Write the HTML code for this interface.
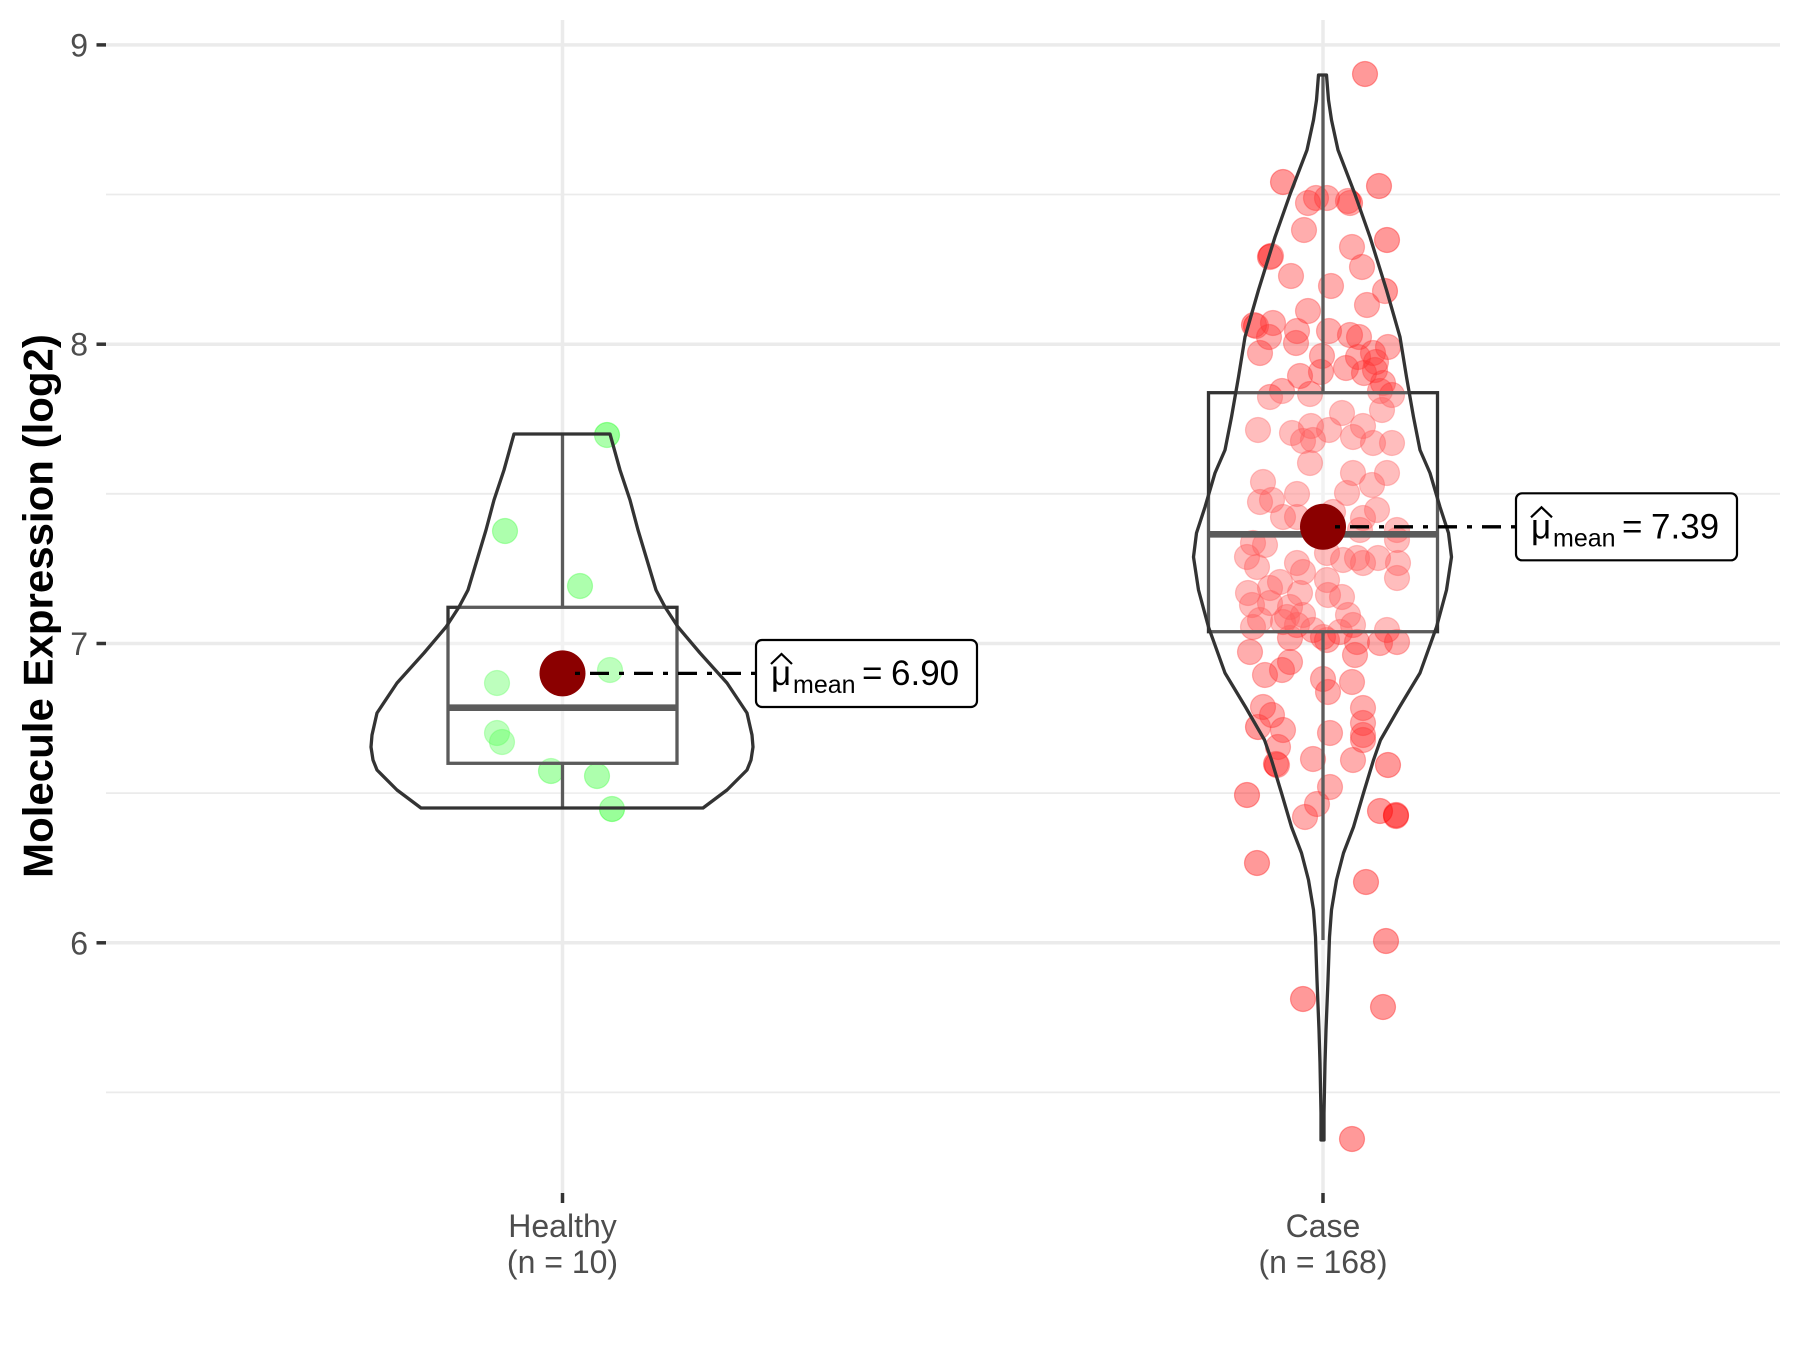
<!DOCTYPE html>
<html>
<head>
<meta charset="utf-8">
<style>
html,body{margin:0;padding:0;background:#fff;}
svg{display:block;}
text{font-family:"Liberation Sans",Arial,sans-serif;}
</style>
</head>
<body>
<svg width="1800" height="1350" viewBox="0 0 1800 1350" xmlns="http://www.w3.org/2000/svg">
<rect x="0" y="0" width="1800" height="1350" fill="#ffffff"/>

<!-- grid -->
<g stroke="#EBEBEB" fill="none">
  <g stroke-width="1.8">
    <line x1="106" y1="194.5" x2="1780" y2="194.5"/>
    <line x1="106" y1="493.8" x2="1780" y2="493.8"/>
    <line x1="106" y1="793.1" x2="1780" y2="793.1"/>
    <line x1="106" y1="1092.4" x2="1780" y2="1092.4"/>
  </g>
  <g stroke-width="3.5">
    <line x1="106" y1="44.9" x2="1780" y2="44.9"/>
    <line x1="106" y1="344.2" x2="1780" y2="344.2"/>
    <line x1="106" y1="643.5" x2="1780" y2="643.5"/>
    <line x1="106" y1="942.8" x2="1780" y2="942.8"/>
    <line x1="562.5" y1="20" x2="562.5" y2="1193"/>
    <line x1="1323" y1="20" x2="1323" y2="1193"/>
  </g>
</g>

<!-- axis ticks -->
<g stroke="#333333" stroke-width="3.5">
  <line x1="96.5" y1="44.9" x2="106" y2="44.9"/>
  <line x1="96.5" y1="344.2" x2="106" y2="344.2"/>
  <line x1="96.5" y1="643.5" x2="106" y2="643.5"/>
  <line x1="96.5" y1="942.8" x2="106" y2="942.8"/>
  <line x1="562.5" y1="1193" x2="562.5" y2="1203"/>
  <line x1="1323" y1="1193" x2="1323" y2="1203"/>
</g>
<g font-size="32" fill="#4D4D4D" text-anchor="end">
  <text x="88" y="56.4">9</text>
  <text x="88" y="355.7">8</text>
  <text x="88" y="655">7</text>
  <text x="88" y="954.3">6</text>
</g>
<g font-size="32" fill="#4D4D4D" text-anchor="middle">
  <text x="562.5" y="1237">Healthy</text>
  <text x="562.5" y="1273">(n = 10)</text>
  <text x="1323" y="1237">Case</text>
  <text x="1323" y="1273">(n = 168)</text>
</g>
<text transform="translate(52.7,606) rotate(-90)" text-anchor="middle" font-size="42" font-weight="bold" fill="#000">Molecule Expression (log2)</text>

<!-- green points -->
<g fill="#00FF00" fill-opacity="0.4" stroke="#00FF00" stroke-opacity="0.35" stroke-width="1.2">
<circle cx="607" cy="435" r="12.5"/><circle cx="505" cy="531" r="12.5"/><circle cx="580" cy="586" r="12.5"/>
<circle cx="610" cy="670" r="12.5"/><circle cx="497" cy="683" r="12.5"/><circle cx="497" cy="733" r="12.5"/>
<circle cx="502" cy="742" r="12.5"/><circle cx="551" cy="771" r="12.5"/><circle cx="597" cy="776" r="12.5"/>
<circle cx="612" cy="809" r="12.5"/>
</g>

<!-- red points -->
<g fill="#FF0000" fill-opacity="0.4" stroke="#FF0000" stroke-opacity="0.35" stroke-width="1.2">
<circle cx="1365" cy="74" r="12.5"/>
<circle cx="1283" cy="182" r="12.5"/><circle cx="1379" cy="186" r="12.5"/><circle cx="1308" cy="203" r="12.5"/>
<circle cx="1316" cy="198" r="12.5"/><circle cx="1327" cy="198" r="12.5"/><circle cx="1348" cy="201" r="12.5"/>
<circle cx="1350" cy="203" r="12.5"/><circle cx="1304" cy="230" r="12.5"/><circle cx="1387" cy="240" r="12.5"/>
<circle cx="1352" cy="247" r="12.5"/><circle cx="1271" cy="256" r="12.5"/><circle cx="1270" cy="257" r="12.5"/>
<circle cx="1362" cy="267" r="12.5"/><circle cx="1291" cy="276" r="12.5"/><circle cx="1331" cy="286" r="12.5"/>
<circle cx="1385" cy="291" r="12.5"/><circle cx="1367" cy="305" r="12.5"/><circle cx="1308" cy="311" r="12.5"/>
<circle cx="1256" cy="326" r="12.5"/><circle cx="1254" cy="325" r="12.5"/><circle cx="1273" cy="323" r="12.5"/>
<circle cx="1297" cy="331" r="12.5"/><circle cx="1329" cy="331" r="12.5"/><circle cx="1350" cy="335" r="12.5"/>
<circle cx="1359" cy="337" r="12.5"/><circle cx="1269" cy="337" r="12.5"/><circle cx="1296" cy="343" r="12.5"/>
<circle cx="1260" cy="353" r="12.5"/><circle cx="1322" cy="356" r="12.5"/><circle cx="1388" cy="347" r="12.5"/>
<circle cx="1373" cy="353" r="12.5"/><circle cx="1358" cy="357" r="12.5"/><circle cx="1376" cy="362" r="12.5"/>
<circle cx="1346" cy="368" r="12.5"/><circle cx="1364" cy="373" r="12.5"/><circle cx="1375" cy="370" r="12.5"/>
<circle cx="1300" cy="376" r="12.5"/><circle cx="1321" cy="372" r="12.5"/><circle cx="1383" cy="383" r="12.5"/>
<circle cx="1282" cy="391" r="12.5"/><circle cx="1270" cy="397" r="12.5"/><circle cx="1310" cy="394" r="12.5"/>
<circle cx="1380" cy="391" r="12.5"/><circle cx="1392" cy="395" r="12.5"/><circle cx="1382" cy="410" r="12.5"/>
<circle cx="1342" cy="413" r="12.5"/><circle cx="1258" cy="430" r="12.5"/><circle cx="1292" cy="433" r="12.5"/>
<circle cx="1311" cy="426" r="12.5"/><circle cx="1329" cy="430" r="12.5"/><circle cx="1363" cy="426" r="12.5"/>
<circle cx="1303" cy="441" r="12.5"/><circle cx="1313" cy="440" r="12.5"/><circle cx="1353" cy="437" r="12.5"/>
<circle cx="1373" cy="443" r="12.5"/><circle cx="1392" cy="443" r="12.5"/>
<circle cx="1310" cy="463" r="12.5"/><circle cx="1353" cy="473" r="12.5"/><circle cx="1263" cy="482" r="12.5"/>
<circle cx="1372" cy="485" r="12.5"/><circle cx="1387" cy="473" r="12.5"/><circle cx="1347" cy="493" r="12.5"/>
<circle cx="1297" cy="494" r="12.5"/><circle cx="1260" cy="502" r="12.5"/><circle cx="1272" cy="500" r="12.5"/>
<circle cx="1377" cy="510" r="12.5"/><circle cx="1283" cy="517" r="12.5"/><circle cx="1297" cy="517" r="12.5"/>
<circle cx="1363" cy="518" r="12.5"/><circle cx="1333" cy="512" r="12.5"/><circle cx="1397" cy="530" r="12.5"/>
<circle cx="1360" cy="530" r="12.5"/><circle cx="1397" cy="540" r="12.5"/><circle cx="1253" cy="543" r="12.5"/>
<circle cx="1265" cy="545" r="12.5"/><circle cx="1247" cy="557" r="12.5"/><circle cx="1257" cy="567" r="12.5"/>
<circle cx="1297" cy="563" r="12.5"/><circle cx="1327" cy="553" r="12.5"/><circle cx="1343" cy="560" r="12.5"/>
<circle cx="1357" cy="558" r="12.5"/><circle cx="1363" cy="563" r="12.5"/><circle cx="1378" cy="558" r="12.5"/>
<circle cx="1398" cy="563" r="12.5"/><circle cx="1303" cy="572" r="12.5"/><circle cx="1397" cy="578" r="12.5"/>
<circle cx="1280" cy="582" r="12.5"/><circle cx="1270" cy="588" r="12.5"/><circle cx="1327" cy="580" r="12.5"/>
<circle cx="1248" cy="593" r="12.5"/><circle cx="1300" cy="593" r="12.5"/><circle cx="1328" cy="595" r="12.5"/>
<circle cx="1342" cy="597" r="12.5"/><circle cx="1252" cy="605" r="12.5"/><circle cx="1270" cy="603" r="12.5"/>
<circle cx="1290" cy="607" r="12.5"/><circle cx="1287" cy="617" r="12.5"/><circle cx="1303" cy="615" r="12.5"/>
<circle cx="1348" cy="615" r="12.5"/><circle cx="1260" cy="620" r="12.5"/><circle cx="1283" cy="622" r="12.5"/>
<circle cx="1253" cy="627" r="12.5"/><circle cx="1297" cy="625" r="12.5"/><circle cx="1353" cy="625" r="12.5"/>
<circle cx="1313" cy="630" r="12.5"/><circle cx="1323" cy="637" r="12.5"/><circle cx="1340" cy="632" r="12.5"/>
<circle cx="1387" cy="630" r="12.5"/><circle cx="1290" cy="638" r="12.5"/><circle cx="1327" cy="640" r="12.5"/>
<circle cx="1357" cy="642" r="12.5"/><circle cx="1397" cy="642" r="12.5"/><circle cx="1380" cy="643" r="12.5"/>
<circle cx="1250" cy="652" r="12.5"/><circle cx="1290" cy="662" r="12.5"/><circle cx="1355" cy="655" r="12.5"/>
<circle cx="1265" cy="675" r="12.5"/><circle cx="1282" cy="670" r="12.5"/><circle cx="1323" cy="679" r="12.5"/>
<circle cx="1328" cy="692" r="12.5"/><circle cx="1352" cy="682" r="12.5"/><circle cx="1263" cy="707" r="12.5"/>
<circle cx="1272" cy="715" r="12.5"/><circle cx="1363" cy="708" r="12.5"/><circle cx="1363" cy="723" r="12.5"/>
<circle cx="1258" cy="727" r="12.5"/><circle cx="1283" cy="730" r="12.5"/><circle cx="1330" cy="733" r="12.5"/>
<circle cx="1363" cy="735" r="12.5"/>
<circle cx="1363" cy="740" r="12.5"/><circle cx="1278" cy="747" r="12.5"/><circle cx="1313" cy="759" r="12.5"/>
<circle cx="1353" cy="760" r="12.5"/><circle cx="1277" cy="765" r="12.5"/><circle cx="1276" cy="764" r="12.5"/>
<circle cx="1388" cy="765" r="12.5"/><circle cx="1330" cy="787" r="12.5"/><circle cx="1247" cy="795" r="12.5"/>
<circle cx="1317" cy="804" r="12.5"/><circle cx="1305" cy="817" r="12.5"/><circle cx="1380" cy="811" r="12.5"/>
<circle cx="1396" cy="815" r="12.5"/><circle cx="1396" cy="816" r="12.5"/><circle cx="1257" cy="863" r="12.5"/>
<circle cx="1366" cy="882" r="12.5"/><circle cx="1386" cy="941" r="12.5"/><circle cx="1303" cy="999" r="12.5"/>
<circle cx="1383" cy="1007" r="12.5"/><circle cx="1352" cy="1139" r="12.5"/>
</g>

<!-- boxplots -->
<g stroke="#333333" stroke-width="3.3" fill="#ffffff" fill-opacity="0.2" stroke-linejoin="miter">
  <line x1="562.5" y1="434.3" x2="562.5" y2="607.3"/>
  <line x1="562.5" y1="763.3" x2="562.5" y2="808.3"/>
  <rect x="448" y="607.3" width="229" height="156"/>
  <line x1="448" y1="707.7" x2="677" y2="707.7" stroke-width="6.6"/>

  <line x1="1323" y1="75" x2="1323" y2="392.7"/>
  <line x1="1323" y1="631.7" x2="1323" y2="940"/>
  <rect x="1208.5" y="392.7" width="229" height="239"/>
  <line x1="1208.5" y1="534.3" x2="1437.5" y2="534.3" stroke-width="6.6"/>
</g>

<!-- violins -->
<g stroke="#333333" stroke-width="3.3" fill="#ffffff" fill-opacity="0.2" stroke-linejoin="round">
<path d="M514,434 L610,434 L620,470 L630,500 L638,530 L647,560 L656,590 L665,607 L678,627 L700,653 L727,683 L747,713 L752,735 L753,747 L751,760 L747,770 L727,790 L703,808 L421,808 L397,790 L377,770 L373,760 L371,747 L372,735 L377,713 L397,683 L424,653 L446,627 L459,607 L468,590 L477,560 L486,530 L494,500 L504,470 Z"/>
<path d="M1318.5,75 L1326.5,75 L1328.5,100 L1331.5,120 L1338,150 L1354.5,193 L1370,237 L1386.5,290 L1400,337 L1406.5,377 L1413.5,417 L1420,450 L1430,473 L1440,507 L1448.5,533 L1451.5,557 L1446.5,590 L1436.5,627 L1420,673 L1399.5,707 L1380.5,740 L1373.5,760 L1363.5,793 L1353.5,827 L1343.5,853 L1336.5,880 L1331.5,910 L1329.5,937 L1328,980 L1326,1030 L1325,1063 L1324,1113 L1324,1140 L1321,1140 L1321,1113 L1320,1063 L1319,1030 L1317,980 L1315.5,937 L1313.5,910 L1308.5,880 L1301.5,853 L1291.5,827 L1281.5,793 L1271.5,760 L1264.5,740 L1245.5,707 L1225,673 L1208.5,627 L1198.5,590 L1193.5,557 L1196.5,533 L1205,507 L1215,473 L1225,450 L1231.5,417 L1238.5,377 L1245,337 L1258.5,290 L1275,237 L1290.5,193 L1307,150 L1313.5,120 L1316.5,100 Z"/>
</g>

<!-- means -->
<circle cx="562.5" cy="673.4" r="23" fill="#8B0000"/>
<circle cx="1323" cy="526.8" r="23" fill="#8B0000"/>

<g stroke="#000" stroke-width="3.3" stroke-dasharray="5 10 19 10" fill="none">
  <line x1="575" y1="673.4" x2="756" y2="673.4"/>
  <line x1="1335" y1="526.8" x2="1516" y2="526.8"/>
</g>

<!-- labels -->
<g>
  <rect x="756" y="640" width="221" height="67" rx="6" ry="6" fill="#fff" stroke="#000" stroke-width="2.2"/>
  <polyline points="771,664 781.5,654 792,664" fill="none" stroke="#000" stroke-width="2.2"/>
  <text x="771" y="685" font-size="35" fill="#000">μ</text>
  <text x="793" y="693" font-size="25" fill="#000">mean</text>
  <text x="862" y="685" font-size="35" fill="#000">=</text>
  <text x="891" y="685" font-size="35" fill="#000">6.90</text>
</g>
<g transform="translate(760,-146.7)">
  <rect x="756" y="640" width="221" height="67" rx="6" ry="6" fill="#fff" stroke="#000" stroke-width="2.2"/>
  <polyline points="771,664 781.5,654 792,664" fill="none" stroke="#000" stroke-width="2.2"/>
  <text x="771" y="685" font-size="35" fill="#000">μ</text>
  <text x="793" y="693" font-size="25" fill="#000">mean</text>
  <text x="862" y="685" font-size="35" fill="#000">=</text>
  <text x="891" y="685" font-size="35" fill="#000">7.39</text>
</g>
</svg>
</body>
</html>
